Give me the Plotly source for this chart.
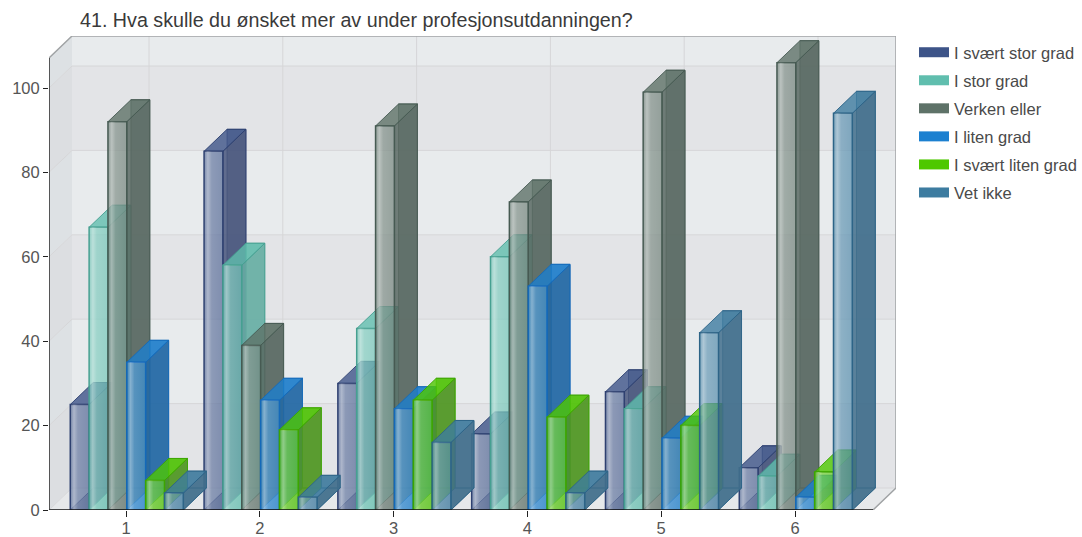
import plotly.graph_objects as go

title = "41. Hva skulle du ønsket mer av under profesjonsutdanningen?"
categories = [1, 2, 3, 4, 5, 6]
y_ticks = [0, 20, 40, 60, 80, 100]

s1 = [25, 85, 30, 18, 28, 10]
s2 = [67, 58, 43, 60, 24, 8]
s3 = [92, 39, 91, 73, 99, 106]
s4 = [35, 26, 24, 53, 17, 3]
s5 = [7, 19, 26, 22, 20, 9]
s6 = [4, 3, 16, 4, 42, 94]

series_names = ["I svært stor grad", "I stor grad", "Verken eller", "I liten grad", "I svært liten grad", "Vet ikke"]
series_values = [s1, s2, s3, s4, s5, s6]
base_rgb = [(61, 84, 136), (96, 190, 174), (94, 114, 104), (28, 128, 208), (78, 200, 0), (61, 124, 160)]
edge_rgb = [(46, 64, 112), (70, 160, 145), (70, 90, 82), (20, 105, 185), (60, 165, 0), (45, 100, 135)]
side_rgb = [(72, 86, 125), (105, 175, 165), (88, 104, 98), (35, 105, 165), (80, 150, 35), (65, 110, 140)]

# scale of the drawing
PX_X = 133.8
PX_Y = 4.22
X0 = 1 - 77 / PX_X
X1 = 6 + 101 / PX_X
DX = 23 / PX_X
DY = 22 / PX_Y
Y1 = 474 / PX_Y
GROUP = 0.845
BW = GROUP / 6
NUDGE = 0.8 / PX_X
PLOT_W, PLOT_H = 847, 474

fig = go.Figure()
shapes = []


def poly(points, fill, line=None, lw=0, layer="below"):
    path = "M" + " L".join(f"{x},{y}" for x, y in points) + " Z"
    shapes.append(dict(type="path", path=path, xref="x", yref="y", fillcolor=fill,
                       line=dict(color=line or "rgba(0,0,0,0)", width=lw), layer=layer))


# walls, banded between the y ticks
Yw = Y1 - DY
bands = y_ticks + [Yw]
for i in range(len(bands) - 1):
    lo, hi = bands[i], bands[i + 1]
    light = i % 2 == 1
    back = "#e8ebed" if light else "#e3e4e7"
    side = "#dde1e4" if light else "#dcdee1"
    poly([(X0 + DX, lo + DY), (X1, lo + DY), (X1, hi + DY), (X0 + DX, hi + DY)], back)
    poly([(X0, lo), (X0 + DX, lo + DY), (X0 + DX, hi + DY), (X0, hi)], side)
poly([(X0, 0), (X1 - DX, 0), (X1, DY), (X0 + DX, DY)], "#e6e8ea")

# wall grid
for v in y_ticks[1:] + [0]:
    shapes.append(dict(type="line", xref="x", yref="y", x0=X0 + DX, x1=X1, y0=v + DY, y1=v + DY,
                       line=dict(color="#d6d6d8", width=1), layer="below"))
    shapes.append(dict(type="line", xref="x", yref="y", x0=X0, x1=X0 + DX, y0=v, y1=v + DY,
                       line=dict(color="#d6d6d8", width=1), layer="below"))
for c in categories:
    shapes.append(dict(type="line", xref="x", yref="y", x0=c + DX, x1=c + DX, y0=DY, y1=Y1,
                       line=dict(color="#d6d6d8", width=1), layer="below"))
# outer border
shapes.append(dict(type="path", xref="x", yref="y",
                   path=f"M{X0},{Yw} L{X0 + DX},{Y1} L{X1},{Y1} L{X1},{DY} L{X1 - DX},0",
                   line=dict(color="#a0a3a5", width=1.5), fillcolor="rgba(0,0,0,0)", layer="below"))


def rgba(c, a):
    return f"rgba({c[0]},{c[1]},{c[2]},{a})"


z = 1
for k, (name, vals) in enumerate(zip(series_names, series_values)):
    c, e, sc = base_rgb[k], edge_rgb[k], side_rgb[k]
    offs = -GROUP / 2 + k * BW + NUDGE
    # back, floor and left faces, seen through the box
    bx, by, tx, ty, sx, sy = [], [], [], [], [], []
    for cat, v in zip(categories, vals):
        l, r = cat + offs, cat + offs + BW
        bx += [l + DX, r + DX, r + DX, l + DX, l + DX, None]
        by += [DY, DY, v + DY, v + DY, DY, None]
        bx += [l, r, r + DX, l + DX, l, None]
        by += [0, 0, DY, DY, 0, None]
        tx += [l, r, r + DX, l + DX, l, None]
        ty += [v, v, v + DY, v + DY, v, None]
        sx += [r, r + DX, r + DX, r, r, None]
        sy += [0, DY, v + DY, v, 0, None]
    common = dict(mode="lines", fill="toself", hoverinfo="skip", showlegend=False, cliponaxis=False)
    fig.add_trace(go.Scatter(x=bx, y=by, fillcolor=rgba(sc, 0.55), line=dict(color=rgba(e, 0.8), width=1), zorder=z, **common))
    fig.add_trace(go.Scatter(x=sx, y=sy, fillcolor=rgba(sc, 0.85), line=dict(color=rgba(e, 0.8), width=1), zorder=z, **common))
    fig.add_trace(go.Scatter(x=tx, y=ty, fillcolor=rgba(c, 0.8), line=dict(color=rgba(e, 0.9), width=1), zorder=z, **common))
    # front faces
    fig.add_trace(go.Bar(x=categories, y=vals, width=BW, offset=offs, name=name, showlegend=False,
                         marker=dict(color=rgba(c, 0.68), line=dict(color=rgba(e, 1), width=1.5)),
                         zorder=z + 1, legendgroup=name))
    for cat, v in zip(categories, vals):
        l, r = cat + offs + 0.006, cat + offs + BW - 0.006
        fig.add_trace(go.Scatter(
            x=[l, r, r, l, l], y=[0, 0, v, v, 0], mode="lines", fill="toself", hoverinfo="skip",
            showlegend=False, line=dict(width=0), zorder=z + 1,
            fillgradient=dict(type="horizontal", colorscale=[
                [0, "rgba(255,255,255,0.12)"], [0.17, "rgba(255,255,255,0.42)"],
                [0.4, "rgba(255,255,255,0.18)"], [1, "rgba(255,255,255,0.1)"]])))
    # legend entry
    fig.add_trace(go.Scatter(x=[None], y=[None], mode="lines", name=name, legendgroup=name,
                             line=dict(color=rgba(c, 1), width=10), hoverinfo="skip"))
    z += 2

# axis lines
fig.add_trace(go.Scatter(x=[X0, X1 - DX], y=[0, 0], mode="lines", line=dict(color="#111", width=1.6),
                         showlegend=False, hoverinfo="skip", cliponaxis=False, zorder=z))
fig.add_trace(go.Scatter(x=[X0, X0], y=[0, Yw], mode="lines", line=dict(color="#333", width=1.6),
                         showlegend=False, hoverinfo="skip", cliponaxis=False, zorder=z))

tick_font = dict(family="Liberation Sans, Arial, sans-serif", size=16.5, color="#555")
leg_font = dict(family="Liberation Sans, Arial, sans-serif", size=16.5, color="#4a4a4a")
fig.update_layout(
    width=1082, height=537, margin=dict(l=49, r=186, t=36, b=27, pad=0, autoexpand=False),
    paper_bgcolor="white", plot_bgcolor="rgba(0,0,0,0)", barmode="overlay", font=tick_font,
    title=dict(text=title, x=80 / 1082, xanchor="left", xref="container",
               y=1 - 20 / 537, yanchor="middle",
               font=dict(family="Liberation Sans, Arial, sans-serif", size=19.7, color="#3a3a3a")),
    xaxis=dict(range=[X0, X1], tickvals=categories, ticks="outside", ticklen=6, tickcolor="#222",
               showgrid=False, zeroline=False, showline=False, tickfont=tick_font, automargin=False,
               ticklabelstandoff=-3),
    yaxis=dict(range=[0, Y1], tickvals=y_ticks, ticks="outside", ticklen=5, tickcolor="#222",
               showgrid=False, zeroline=False, showline=False, tickfont=tick_font, automargin=False),
    legend=dict(x=(914 - 49) / PLOT_W, xanchor="left", y=1 - (35 - 36) / PLOT_H, yanchor="top", itemwidth=30,
                tracegroupgap=3.6, font=leg_font, bgcolor="rgba(0,0,0,0)", traceorder="grouped"),
    shapes=shapes,
)
fig.write_html("out.html", config=dict(displayModeBar=False),
               post_script="document.body.style.margin='0';document.body.style.overflow='hidden';")
